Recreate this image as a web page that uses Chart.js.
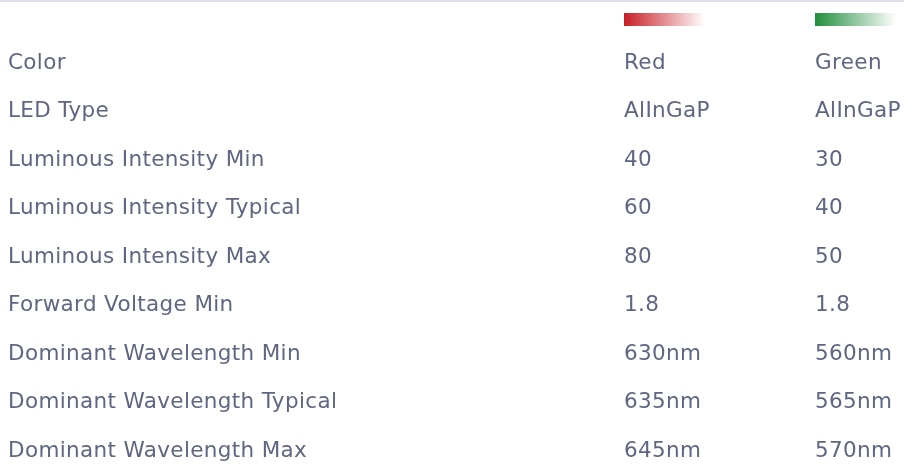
<!DOCTYPE html>
<html>
<head>
<meta charset="utf-8">
<script src="https://cdn.jsdelivr.net/npm/chart.js@4.4.1/dist/chart.umd.min.js"></script>
<style>
  html, body { margin: 0; padding: 0; background: #ffffff; }
  #wrap { position: relative; width: 904px; height: 464px; overflow: hidden; }
  #topline { position: absolute; left: 0; top: 0; width: 904px; height: 2px; background: #dedee8; }
  canvas { position: absolute; left: 0; top: 0; }
</style>
</head>
<body>
<div id="wrap">
  <canvas id="c" width="904" height="464"></canvas>
  <div id="topline"></div>
</div>
<script>
// ---- data ----
const parameters = [
  'Color',
  'LED Type',
  'Luminous Intensity Min',
  'Luminous Intensity Typical',
  'Luminous Intensity Max',
  'Forward Voltage Min',
  'Dominant Wavelength Min',
  'Dominant Wavelength Typical',
  'Dominant Wavelength Max'
];
const columns = ['Red', 'Green'];
const redValues   = ['Red',   'AlInGaP', '40', '60', '80', '1.8', '630nm', '635nm', '645nm'];
const greenValues = ['Green', 'AlInGaP', '30', '40', '50', '1.8', '560nm', '565nm', '570nm'];
const swatchColors = ['rgb(200,30,38)', 'rgb(34,142,62)'];

// ---- styles ----
const FONT_FAMILY = "'DejaVu Sans', Verdana, sans-serif";
const FONT_SIZE = 21.5;
const LETTER_SPACING = '0.35px';
const TEXT_COLOR = '#5f6682';

function cells(colName, values) {
  return values.map((v, i) => ({ x: colName, y: parameters[i], text: v }));
}

const spacingPlugin = {
  id: 'spacing',
  beforeDraw(chart) { chart.ctx.letterSpacing = LETTER_SPACING; }
};

const cellTextPlugin = {
  id: 'cellText',
  afterDatasetsDraw(chart) {
    const ctx = chart.ctx;
    ctx.save();
    ctx.letterSpacing = LETTER_SPACING;
    ctx.font = FONT_SIZE + 'px ' + FONT_FAMILY;
    ctx.fillStyle = TEXT_COLOR;
    ctx.textAlign = 'left';
    ctx.textBaseline = 'middle';
    chart.data.datasets.forEach((ds, di) => {
      const meta = chart.getDatasetMeta(di);
      meta.data.forEach((pt, i) => {
        ctx.fillText(ds.data[i].text, pt.x, pt.y);
      });
    });
    // colour swatches in the header row above the first parameter row
    const xs = chart.scales.x, ys = chart.scales.y;
    const firstRow = ys.getPixelForValue(0);
    columns.forEach((c, i) => {
      const x0 = xs.getPixelForValue(i);
      const w = 81, h = 13;
      const yTop = firstRow - 50;
      const g = ctx.createLinearGradient(x0, 0, x0 + w, 0);
      g.addColorStop(0, swatchColors[i]);
      g.addColorStop(1, swatchColors[i].replace('rgb', 'rgba').replace(')', ',0)'));
      ctx.fillStyle = g;
      ctx.fillRect(x0, yTop, w, h);
    });
    ctx.restore();
  }
};

new Chart(document.getElementById('c'), {
  type: 'line',
  data: {
    datasets: [
      { label: columns[0], data: cells(columns[0], redValues), showLine: false, pointRadius: 0, pointHoverRadius: 0 },
      { label: columns[1], data: cells(columns[1], greenValues), showLine: false, pointRadius: 0, pointHoverRadius: 0 }
    ]
  },
  options: {
    responsive: false,
    animation: false,
    events: [],
    layout: { padding: { left: 8, right: 89, top: 63, bottom: 11 } },
    plugins: { legend: { display: false }, tooltip: { enabled: false } },
    scales: {
      x: {
        type: 'category',
        labels: columns,
        offset: false,
        display: false
      },
      y: {
        type: 'category',
        labels: parameters,
        offset: false,
        grid: { display: false, drawTicks: false },
        border: { display: false },
        afterFit(axis) { axis.width = 616; },
        ticks: {
          crossAlign: 'far',
          padding: 0,
          autoSkip: false,
          color: TEXT_COLOR,
          font: { family: FONT_FAMILY, size: FONT_SIZE }
        }
      }
    }
  },
  plugins: [spacingPlugin, cellTextPlugin]
});
</script>
</body>
</html>
